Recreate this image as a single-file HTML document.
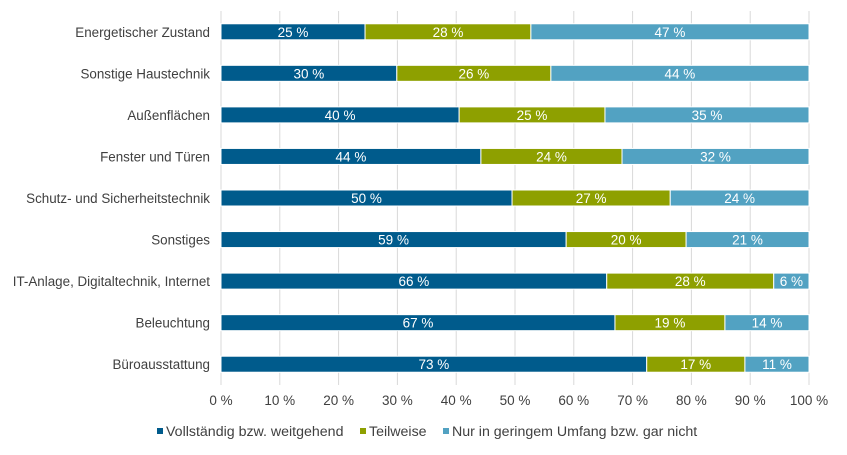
<!DOCTYPE html>
<html><head><meta charset="utf-8"><style>
body{margin:0;background:#fff;font-family:"Liberation Sans",sans-serif;}
svg text{font-family:"Liberation Sans",sans-serif;}
</style></head><body>
<svg id="chart" width="847" height="450" xmlns="http://www.w3.org/2000/svg"></svg>
<script>
const categories=["Energetischer Zustand","Sonstige Haustechnik","Außenflächen","Fenster und Türen","Schutz- und Sicherheitstechnik","Sonstiges","IT-Anlage, Digitaltechnik, Internet","Beleuchtung","Büroausstattung"];
const seriesVollstaendig=[24.5,29.9,40.5,44.2,49.5,58.7,65.6,67.0,72.4];
const seriesTeilweise=[28.2,26.2,24.8,24.0,26.9,20.4,28.4,18.7,16.7];
const seriesGering=[47.3,43.9,34.7,31.8,23.6,20.9,6.0,14.3,10.9];
const labelsVollstaendig=["25 %","30 %","40 %","44 %","50 %","59 %","66 %","67 %","73 %"];
const labelsTeilweise=["28 %","26 %","25 %","24 %","27 %","20 %","28 %","19 %","17 %"];
const labelsGering=["47 %","44 %","35 %","32 %","24 %","21 %","6 %","14 %","11 %"];
const tickValues=[0,10,20,30,40,50,60,70,80,90,100];
const tickLabels=["0 %","10 %","20 %","30 %","40 %","50 %","60 %","70 %","80 %","90 %","100 %"];
const legendNames=["Vollständig bzw. weitgehend","Teilweise","Nur in geringem Umfang bzw. gar nicht"];

const svg=document.getElementById('chart');
const NS="http://www.w3.org/2000/svg";
const x0=221,x1=809,top0=11,bottom=385;
const xs=v=>x0+(x1-x0)*v/100;
const rowH=(bottom-top0)/categories.length;
const yc=i=>top0+rowH*(i+0.5);
const barH=16;
const colors=["#005b8c","#8ea000","#52a2c2"];
function mk(t,a,txt){const e=document.createElementNS(NS,t);for(const k in a)e.setAttribute(k,a[k]);if(txt!=null)e.textContent=txt;svg.appendChild(e);return e;}

tickValues.forEach((v,i)=>{
  const g=mk('line',{x1:xs(v),x2:xs(v),y1:top0,y2:bottom,stroke:'#d9d9d9','stroke-width':1});
  
  
  const t=mk('text',{x:xs(v),y:405,'text-anchor':'middle','font-size':13.5,fill:'#404040'},tickLabels[i]);
  
  
});

const series=[seriesVollstaendig,seriesTeilweise,seriesGering];
const labels=[labelsVollstaendig,labelsTeilweise,labelsGering];
categories.forEach((c,i)=>{
  const t=mk('text',{x:210,y:yc(i)+5,'text-anchor':'end','font-size':13.4,fill:'#404040'},c);
  
  
  let acc=0;
  series.forEach((s,k)=>{
    const v=s[i];
    const r=mk('rect',{x:xs(acc),y:yc(i)-barH/2,width:xs(acc+v)-xs(acc),height:barH,fill:colors[k],stroke:'#fff','stroke-width':1});
    
    
    const l=mk('text',{x:(xs(acc)+xs(acc+v))/2,y:yc(i)+5,'text-anchor':'middle','font-size':13.5,fill:'#fff'},labels[k][i]);
    
    
    acc+=v;
  });
});

const lx=[157,360,443];
legendNames.forEach((n,k)=>{
  const r=mk('rect',{x:lx[k],y:428,width:6,height:6,fill:colors[k]});
  
  
  const t=mk('text',{x:lx[k]+9,y:436,'font-size':14.2,fill:'#404040'},n);
  
  
});
</script>
</body></html>
